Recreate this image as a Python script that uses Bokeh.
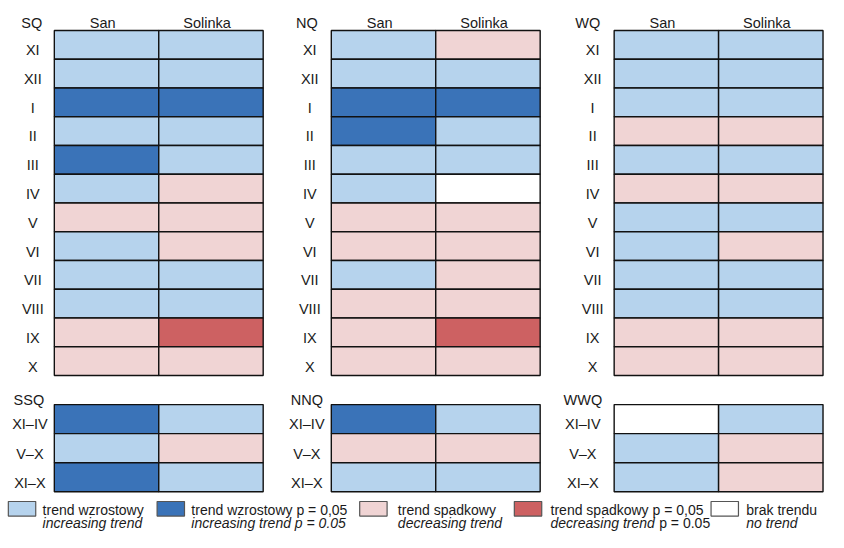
from bokeh.plotting import figure
from bokeh.models import Range1d
from bokeh.core.properties import value
from bokeh.embed import file_html
from bokeh.resources import INLINE

# ---------------- data ----------------
months = ["XI", "XII", "I", "II", "III", "IV", "V", "VI", "VII", "VIII", "IX", "X"]
periods = ["XI–IV", "V–X", "XI–X"]
rivers = ["San", "Solinka"]

# trend codes: 0 no trend, 1 increasing, 2 increasing p=0.05,
#              3 decreasing, 4 decreasing p=0.05
SQ_san = [1, 1, 2, 1, 2, 1, 3, 1, 1, 1, 3, 3]
SQ_solinka = [1, 1, 2, 1, 1, 3, 3, 3, 1, 1, 4, 3]
NQ_san = [1, 1, 2, 2, 1, 1, 3, 3, 1, 3, 3, 3]
NQ_solinka = [3, 1, 2, 1, 1, 0, 3, 3, 3, 3, 4, 3]
WQ_san = [1, 1, 1, 3, 1, 3, 1, 1, 1, 1, 3, 3]
WQ_solinka = [1, 1, 1, 3, 1, 3, 1, 3, 1, 1, 3, 3]

SSQ_san = [2, 1, 2]
SSQ_solinka = [1, 3, 1]
NNQ_san = [2, 3, 1]
NNQ_solinka = [1, 3, 1]
WWQ_san = [0, 1, 1]
WWQ_solinka = [1, 3, 3]

main_names = ["SQ", "NQ", "WQ"]
sub_names = ["SSQ", "NNQ", "WWQ"]

legend_codes = [1, 2, 3, 4, 0]
legend_pl = ["trend wzrostowy", "trend wzrostowy p = 0,05", "trend spadkowy",
             "trend spadkowy p = 0,05", "brak trendu"]
legend_en = ["increasing trend", "increasing trend p  = 0.05", "decreasing trend",
             "decreasing trend", "no trend"]
legend_en_suffix = ["", "", "", "p = 0.05", ""]

colors = {0: "#ffffff", 1: "#b6d3ed", 2: "#3a73b8", 3: "#f0d4d4", 4: "#cd6162"}

# ---------------- layout ----------------
FONT = value("Liberation Sans")
FS = "14.5px"
LFS = "14px"
table_left = [55, 338, 627]
col_w = 106.7
main_top = 31
main_h = 29.67
sub_top = 417
sub_h = 30.0
head_x = [32, 313, 600]
rowlab_x = [33, 316, 605]
sub_head_x = [29, 313, 595]
sub_lab_x = [30, 313, 595]

p = figure(width=828, height=532, output_backend="svg", toolbar_location=None,
           x_range=Range1d(0, 846), y_range=Range1d(549, 0), min_border=0)
p.axis.visible = False
p.grid.visible = False
p.outline_line_color = None
p.background_fill_color = "white"
p.border_fill_color = "white"

main_data = [(SQ_san, SQ_solinka), (NQ_san, NQ_solinka), (WQ_san, WQ_solinka)]
sub_data = [(SSQ_san, SSQ_solinka), (NNQ_san, NNQ_solinka), (WWQ_san, WWQ_solinka)]

L, R, T, B, C = [], [], [], [], []
for k in range(3):
    x0 = table_left[k]
    for ci, series in enumerate(main_data[k]):
        for ri, code in enumerate(series):
            L.append(x0 + ci * col_w)
            R.append(x0 + (ci + 1) * col_w)
            T.append(main_top + ri * main_h)
            B.append(main_top + (ri + 1) * main_h)
            C.append(colors[code])
    for ci, series in enumerate(sub_data[k]):
        for ri, code in enumerate(series):
            L.append(x0 + ci * col_w)
            R.append(x0 + (ci + 1) * col_w)
            T.append(sub_top + ri * sub_h)
            B.append(sub_top + (ri + 1) * sub_h)
            C.append(colors[code])

p.quad(left=L, right=R, top=T, bottom=B, fill_color=C,
       line_color="#111111", line_width=1.4)

# labels
hx, hy, ht = [], [], []
for k in range(3):
    hx.append(head_x[k]); hy.append(23); ht.append(main_names[k])
    for ci, r in enumerate(rivers):
        hx.append(table_left[k] + (ci + 0.5) * col_w - 4); hy.append(23); ht.append(r)
    for ri, m in enumerate(months):
        hx.append(rowlab_x[k]); hy.append(main_top + (ri + 0.5) * main_h + 5.5); ht.append(m)
    hx.append(sub_head_x[k]); hy.append(412); ht.append(sub_names[k])
    for ri, m in enumerate(periods):
        hx.append(sub_lab_x[k]); hy.append(sub_top + (ri + 0.5) * sub_h + 5.5); ht.append(m)

p.text(x=hx, y=hy, text=ht, text_align="center", text_baseline="alphabetic",
       text_font=FONT, text_font_size=FS, text_color="#1a1a1a")

# legend
sw_left = [8, 160, 367, 525, 726]
txt_left = [43, 195, 406, 562, 762]
sw_w = 28
p.quad(left=sw_left, right=[s + sw_w for s in sw_left], top=[517] * 5, bottom=[532] * 5,
       fill_color=[colors[c] for c in legend_codes], line_color="#555555", line_width=1.2)
p.text(x=txt_left, y=[526] * 5, text=legend_pl, text_align="left",
       text_baseline="alphabetic", text_font=FONT, text_font_size=LFS, text_color="#1a1a1a")
p.text(x=txt_left, y=[539] * 5, text=legend_en, text_align="left",
       text_baseline="alphabetic", text_font=FONT, text_font_size=LFS,
       text_font_style="italic", text_color="#1a1a1a")
sx = [txt_left[i] + 111 for i in range(5) if legend_en_suffix[i]]
st = [s for s in legend_en_suffix if s]
p.text(x=sx, y=[539] * len(st), text=st, text_align="left",
       text_baseline="alphabetic", text_font=FONT, text_font_size=LFS, text_color="#1a1a1a")

open("out.html", "w").write(file_html(p, INLINE))
